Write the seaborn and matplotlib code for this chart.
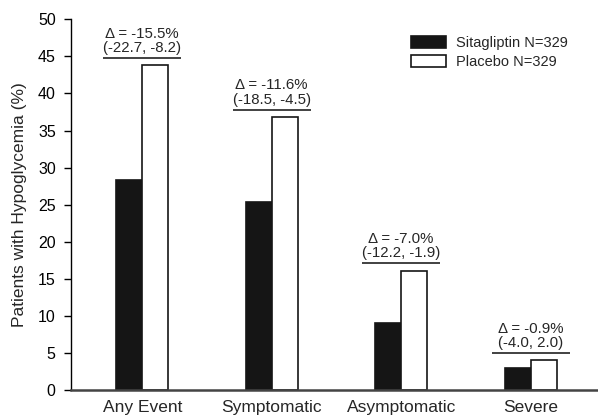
import matplotlib
matplotlib.use("Agg")
import matplotlib.pyplot as plt
import seaborn as sns
import pandas as pd

categories = ["Any Event", "Symptomatic", "Asymptomatic", "Severe"]
sitagliptin = [28.3, 25.3, 9.1, 3.0]
placebo = [43.8, 36.8, 16.1, 4.0]
delta_labels = ["Δ = -15.5%\n(-22.7, -8.2)", "Δ = -11.6%\n(-18.5, -4.5)",
                "Δ = -7.0%\n(-12.2, -1.9)", "Δ = -0.9%\n(-4.0, 2.0)"]
series_names = ["Sitagliptin N=329", "Placebo N=329"]

df = pd.DataFrame({
    "Category": categories * 2,
    "Value": sitagliptin + placebo,
    "Group": [series_names[0]] * 4 + [series_names[1]] * 4,
})

sns.set_style("white")
plt.rcParams["font.family"] = ["Liberation Sans", "DejaVu Sans"]

fig = plt.figure(figsize=(5.98, 4.17), dpi=100)
ax = fig.add_axes([71 / 598, 1 - 390 / 417, 1 - 71 / 598, (390 - 19.3) / 417])

sns.barplot(data=df, x="Category", y="Value", hue="Group", order=categories,
            hue_order=series_names, palette=["#151515", "white"], width=0.4,
            edgecolor="#151515", linewidth=1.2, saturation=1, ax=ax, legend=True)

ax.set_ylim(0, 50)
ax.set_xlim(-0.55, 3.52)
ax.set_yticks(range(0, 51, 5))
ax.tick_params(axis="y", direction="out", length=5, width=1, labelsize=11.5,
               colors="black", left=True, pad=6)
ax.tick_params(axis="x", length=0, labelsize=12.5, pad=7)
ax.set_xlabel("")
ax.set_ylabel("Patients with Hypoglycemia (%)", fontsize=12.5, labelpad=8)

for s in ["top", "right"]:
    ax.spines[s].set_visible(False)
ax.spines["left"].set_color("black")
ax.spines["left"].set_linewidth(1)
ax.spines["bottom"].set_color("#444444")
ax.spines["bottom"].set_linewidth(1.8)

for i, (p, lab) in enumerate(zip(placebo, delta_labels)):
    ly = p + 1.0
    ax.plot([i - 0.3, i + 0.3], [ly, ly], color="#333333", lw=1.3, solid_capstyle="butt")
    ax.annotate(lab, xy=(i, ly), xytext=(0, 2), textcoords="offset points",
                ha="center", va="bottom", fontsize=10.8, linespacing=1.05)

leg = ax.legend(loc="upper left", bbox_to_anchor=(0.62, 0.99), frameon=False,
                fontsize=10.5, handlelength=2.4, handleheight=0.9, handletextpad=0.7,
                labelspacing=0.3)

fig.savefig("out.png", dpi=100)
